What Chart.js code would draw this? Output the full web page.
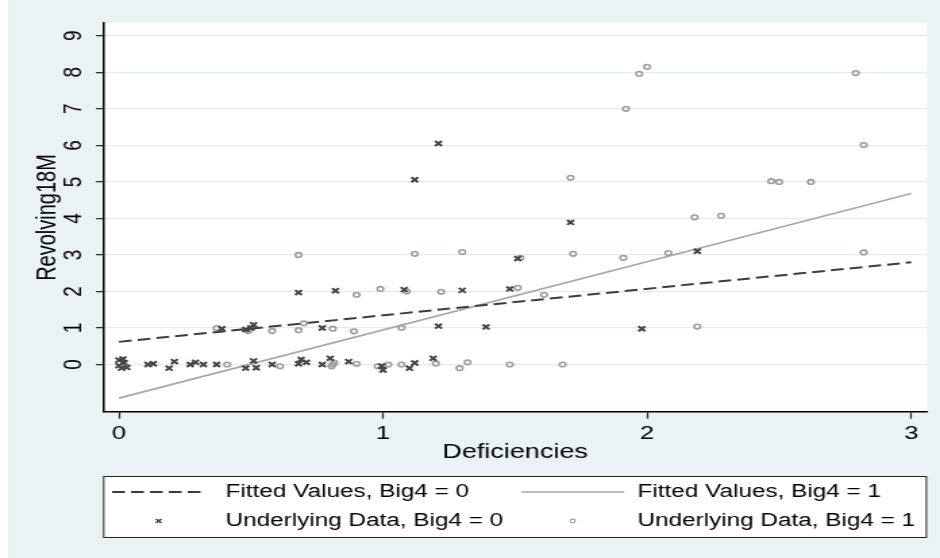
<!DOCTYPE html>
<html>
<head>
<meta charset="utf-8">
<title>Revolving18M vs Deficiencies</title>
<script src="https://cdn.jsdelivr.net/npm/chart.js@4.4.1/dist/chart.umd.min.js"></script>
<style>
  html, body { margin: 0; padding: 0; background: #eaf2f3; overflow: hidden; }
  /* the original graph is stretched sideways, so draw narrow and widen */
  #wrap { width: 696px; height: 558px; transform: scaleX(1.3506); transform-origin: 0 0; }
</style>
</head>
<body>
<div id="wrap"><canvas id="chart" width="696" height="558"></canvas></div>
<script>
const FONT = '"Liberation Sans", Arial, sans-serif';

// Underlying data, Big4 = 0 (x markers)
const defic0 = [0.00, 0.01, 0.02, 0.00, 0.03, 0.015, 0.11, 0.13, 0.19, 0.21, 0.27, 0.29, 0.32, 0.37,
                0.48, 0.51, 0.52, 0.58, 0.68, 0.69, 0.71, 0.77, 0.80, 0.87, 0.995, 1.00, 1.10, 1.12, 1.19,
                0.39, 0.48, 0.51, 0.50, 0.77, 1.21, 1.39, 1.98,
                0.68, 0.82, 1.08, 1.30, 1.48,
                1.51, 2.19, 1.71, 1.12, 1.21];
const revolv0 = [0.12, -0.10, 0.05, -0.03, -0.08, 0.15, 0.00, 0.02, -0.10, 0.08, 0.00, 0.06, 0.00, 0.00,
                 -0.10, 0.10, -0.09, 0.00, 0.02, 0.14, 0.06, 0.00, 0.17, 0.08, -0.04, -0.15, -0.10, 0.04, 0.17,
                 0.98, 0.96, 1.09, 1.00, 1.00, 1.05, 1.03, 0.98,
                 1.97, 2.02, 2.05, 2.03, 2.07,
                 2.90, 3.10, 3.89, 5.06, 6.05];

// Underlying data, Big4 = 1 (hollow circles)
const defic1 = [0.41, 0.61, 0.81, 0.815, 0.805, 0.90, 0.98, 1.02, 1.07, 1.20, 1.29, 1.32, 1.48, 1.68,
                0.37, 0.49, 0.58, 0.68, 0.70, 0.81, 0.89, 1.07, 2.19,
                0.90, 0.99, 1.09, 1.22, 1.51, 1.61,
                0.68, 1.12, 1.30, 1.52, 1.72, 1.91, 2.08, 2.82,
                2.18, 2.28, 1.71, 2.47, 2.50, 2.62, 2.82, 1.92, 1.97, 2.00, 2.79];
const revolv1 = [0.00, -0.05, 0.00, 0.05, -0.05, 0.02, -0.05, 0.00, 0.00, 0.03, -0.10, 0.06, 0.00, 0.00,
                 1.00, 0.92, 0.92, 0.94, 1.13, 0.98, 0.91, 1.01, 1.04,
                 1.91, 2.07, 2.00, 1.99, 2.10, 1.91,
                 3.00, 3.03, 3.08, 2.92, 3.03, 2.92, 3.05, 3.07,
                 4.03, 4.07, 5.11, 5.02, 5.00, 5.00, 6.01, 7.00, 7.96, 8.15, 7.98];

// Fitted values (end points of the two regression lines)
const fitX = [0, 3];
const fit0 = [0.62, 2.80];
const fit1 = [-0.92, 4.68];

const xTicks = [0, 1, 2, 3];
const yTicks = [0, 1, 2, 3, 4, 5, 6, 7, 8, 9];

const legendLabels = ['Fitted Values, Big4 = 0', 'Fitted Values, Big4 = 1',
                      'Underlying Data, Big4 = 0', 'Underlying Data, Big4 = 1'];

function toPoints(xs, ys) {
    return xs.map((x, i) => ({ x: x, y: ys[i] }));
}

// light blue-gray page, white plot region
const stataBackground = {
    id: 'stataBackground',
    beforeDraw(chart) {
        const { ctx, chartArea: a, width, height } = chart;
        ctx.save();
        ctx.fillStyle = '#eaf2f3';
        ctx.fillRect(0, 0, width, height);
        ctx.fillStyle = '#ffffff';
        ctx.fillRect(0, 0, 6, height);
        ctx.fillRect(a.left, a.top, a.right - a.left, a.bottom - a.top);
        ctx.restore();
    }
};

// two-column legend box under the plot
const stataLegend = {
    id: 'stataLegend',
    afterDraw(chart) {
        const ctx = chart.ctx;
        const a = chart.chartArea;
        const top = 476, bottom = 538;
        const rows = [492, 521];
        const cols = [{ x0: 83, x1: 152, text: 167 }, { x0: 386, x1: 462, text: 472 }];
        ctx.save();
        ctx.fillStyle = '#ffffff';
        ctx.fillRect(a.left, top, a.right - a.left, bottom - top);
        ctx.strokeStyle = '#222';
        ctx.lineWidth = 1;
        ctx.strokeRect(a.left + 0.5, top + 0.5, a.right - a.left - 1, bottom - top - 1);

        const ds = chart.data.datasets;
        const order = [0, 1, 2, 3];
        order.forEach((k, i) => {
            const d = ds[k];
            const c = cols[i % 2];
            const y = rows[Math.floor(i / 2)];
            const mid = (c.x0 + c.x1) / 2;
            if (d.showLine) {
                ctx.beginPath();
                ctx.setLineDash(d.borderDash || []);
                ctx.strokeStyle = d.borderColor;
                ctx.lineWidth = d.borderWidth;
                ctx.moveTo(c.x0, y);
                ctx.lineTo(c.x1, y);
                ctx.stroke();
                ctx.setLineDash([]);
            } else if (d.pointStyle === 'crossRot') {
                const r = d.pointRadius * 0.707;
                ctx.beginPath();
                ctx.strokeStyle = d.borderColor;
                ctx.lineWidth = 1.6;
                ctx.moveTo(mid - r * 0.8, y - r * 0.8);
                ctx.lineTo(mid + r * 0.8, y + r * 0.8);
                ctx.moveTo(mid - r * 0.8, y + r * 0.8);
                ctx.lineTo(mid + r * 0.8, y - r * 0.8);
                ctx.stroke();
            } else {
                ctx.beginPath();
                ctx.strokeStyle = d.borderColor;
                ctx.lineWidth = 1.1;
                ctx.arc(mid, y, d.pointRadius * 0.8, 0, Math.PI * 2);
                ctx.stroke();
            }
            ctx.fillStyle = '#000';
            ctx.font = '18px ' + FONT;
            ctx.textBaseline = 'middle';
            ctx.textAlign = 'left';
            ctx.fillText(legendLabels[i], c.text, y);
        });
        ctx.restore();
    }
};

const ctx = document.getElementById('chart').getContext('2d');
new Chart(ctx, {
    type: 'scatter',
    data: {
        datasets: [{
            label: legendLabels[0],
            data: toPoints(fitX, fit0),
            showLine: true,
            borderColor: '#3c3c3c',
            borderWidth: 2,
            borderDash: [9.5, 4.5],
            pointRadius: 0,
            order: 2
        }, {
            label: legendLabels[1],
            data: toPoints(fitX, fit1),
            showLine: true,
            borderColor: '#a8a8a8',
            borderWidth: 1.6,
            pointRadius: 0,
            order: 2
        }, {
            label: legendLabels[2],
            data: toPoints(defic0, revolv0),
            pointStyle: 'crossRot',
            pointRadius: 3.5,
            borderColor: '#444444',
            borderWidth: 2,
            order: 0
        }, {
            label: legendLabels[3],
            data: toPoints(defic1, revolv1),
            pointStyle: 'circle',
            pointRadius: 2.3,
            borderColor: '#9e9e9e',
            backgroundColor: 'rgba(0,0,0,0)',
            borderWidth: 1.6,
            order: 1
        }]
    },
    options: {
        responsive: false,
        animation: false,
        events: [],
        layout: { padding: { top: 23, right: 9.6, bottom: 90, left: 0 } },
        plugins: {
            legend: { display: false },
            tooltip: { enabled: false }
        },
        scales: {
            x: {
                type: 'linear',
                min: -0.06,
                max: 3.06,
                afterBuildTicks: s => { s.ticks = xTicks.map(v => ({ value: v })); },
                afterFit: s => { s.height = 56; },
                grid: { drawOnChartArea: false, tickLength: 6.7, tickColor: '#222', tickWidth: 1.2 },
                border: { color: '#000', width: 1.5 },
                ticks: { color: '#000', font: { size: 19, family: FONT }, padding: 4, maxRotation: 0 },
                title: {
                    display: true, text: 'Deficiencies', color: '#000',
                    font: { size: 20, family: FONT }, padding: { top: 0, bottom: 4 }
                }
            },
            y: {
                type: 'linear',
                min: -1.3,
                max: 9.35,
                afterBuildTicks: s => { s.ticks = yTicks.map(v => ({ value: v })); },
                afterFit: s => { s.width = 76.3; },
                grid: { color: '#e4ecef', lineWidth: 1.3, tickLength: 5.2, tickColor: '#222', tickWidth: 1.2 },
                border: { color: '#000', width: 1.5 },
                ticks: {
                    color: '#000', font: { size: 19, family: FONT },
                    minRotation: 90, maxRotation: 90, crossAlign: 'center', padding: 10.6
                },
                title: {
                    display: true, text: 'Revolving18M', color: '#000',
                    font: { size: 20, family: FONT }, padding: { top: 23.5, bottom: 0 }
                }
            }
        }
    },
    plugins: [stataBackground, stataLegend]
});
</script>
</body>
</html>
